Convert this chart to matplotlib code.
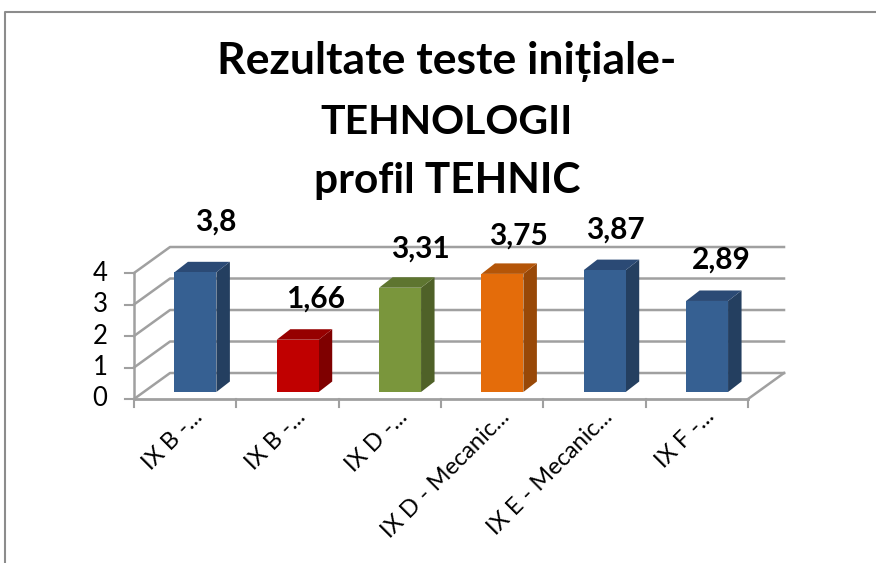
import matplotlib
matplotlib.use('Agg')
import matplotlib.pyplot as plt
from matplotlib.patches import Polygon

plt.rcParams['font.family'] = ['Lato', 'DejaVu Sans']

categories = ['IX B -...', 'IX B -...', 'IX D -...', 'IX D - Mecanic...', 'IX E - Mecanic...', 'IX F -...']
values = [3.8, 1.66, 3.31, 3.75, 3.87, 2.89]
value_labels = ['3,8', '1,66', '3,31', '3,75', '3,87', '2,89']
y_ticks = [0, 1, 2, 3, 4]
title_lines = ['Rezultate teste inițiale-', 'TEHNOLOGII', 'profil TEHNIC']
front_colors = ['#366092', '#c00000', '#7a963c', '#e46c0a', '#366092', '#366092']
side_colors = ['#243f60', '#7f0000', '#4f6128', '#984807', '#243f60', '#243f60']
top_colors = ['#2b4a75', '#960000', '#5e7530', '#b45508', '#2b4a75', '#2b4a75']

# data labels were moved by hand in the original, offsets from the bar corner
label_dx = [0.40, 0.38, 0.40, 0.36, 0.31, 0.34]
label_dy = [1.62, 1.30, 1.24, 1.21, 1.30, 1.30]

W, H = 876, 563
fig = plt.figure(figsize=(W / 100, H / 100), dpi=100)

# frame of the chart, only left and top are visible
bg = fig.add_axes([0, 0, 1, 1])
bg.set_xlim(0, W)
bg.set_ylim(H, 0)
bg.axis('off')
bg.plot([5, 5, W], [H, 12, 12], color='#8c8c8c', lw=1.5)

# axes = front plane of the 3d box
left, right, y0, y4 = 134, 748, 399, 273
ax = fig.add_axes([left / W, 1 - y0 / H, (right - left) / W, (y0 - y4) / H])
ax.set_xlim(0, len(categories))
ax.set_ylim(0, 4)
ax.axis('off')
ax.patch.set_alpha(0)

grid = '#a0a0a0'
# depth of the box and of the bars, in data units
box_dx, box_dy = 0.352, 0.825
bar_dx, bar_dy = 0.132, 0.333
bar_w, off_y = 0.41, 0.222

for t in y_ticks:
    ax.plot([0, box_dx, len(categories) + box_dx], [t, t + box_dy, t + box_dy], color=grid, lw=1.8, clip_on=False)
    ax.plot([-0.088, 0], [t, t], color=grid, lw=1.5, clip_on=False)
    ax.text(-0.26, t, str(t), ha='right', va='center', fontsize=18.5, color='black')
ax.plot([0, 0], [0, 4], color=grid, lw=1.8, clip_on=False)
ax.plot([0, len(categories)], [0, 0], color=grid, lw=2, clip_on=False)
ax.plot([len(categories), len(categories) + box_dx], [0, box_dy], color=grid, lw=1.8, clip_on=False)
for i in range(len(categories) + 1):
    ax.plot([i, i], [0, -0.25], color=grid, lw=1.5, clip_on=False)

for i, v in enumerate(values):
    x0 = i + 0.395
    x1 = x0 + bar_w
    b = off_y
    t = off_y + v
    ax.add_patch(Polygon([(x1, b), (x1 + bar_dx, b + bar_dy), (x1 + bar_dx, t + bar_dy), (x1, t)], fc=side_colors[i], ec='none', clip_on=False, zorder=3))
    ax.add_patch(Polygon([(x0, t), (x1, t), (x1 + bar_dx, t + bar_dy), (x0 + bar_dx, t + bar_dy)], fc=top_colors[i], ec='none', clip_on=False, zorder=3))
    ax.add_patch(Polygon([(x0, b), (x1, b), (x1, t), (x0, t)], fc=front_colors[i], ec='none', clip_on=False, zorder=4))
    ax.text(x0 + label_dx[i], t + label_dy[i], value_labels[i], ha='center', va='center', fontsize=21.5, fontweight='bold', color='black', zorder=5, clip_on=False)
    ax.text(i + 0.64, -0.45, categories[i], rotation=45, rotation_mode='anchor', ha='right', va='center', fontsize=17, color='black', clip_on=False)

# title lines one by one, the capitals of the fallback font run wider
for line, size, y in zip(title_lines, [32, 29.5, 30.5], [62, 122, 181]):
    fig.text(447 / W, 1 - y / H, line, ha='center', va='center', fontsize=size, fontweight='bold', color='black')

fig.savefig('out.png', dpi=100)
